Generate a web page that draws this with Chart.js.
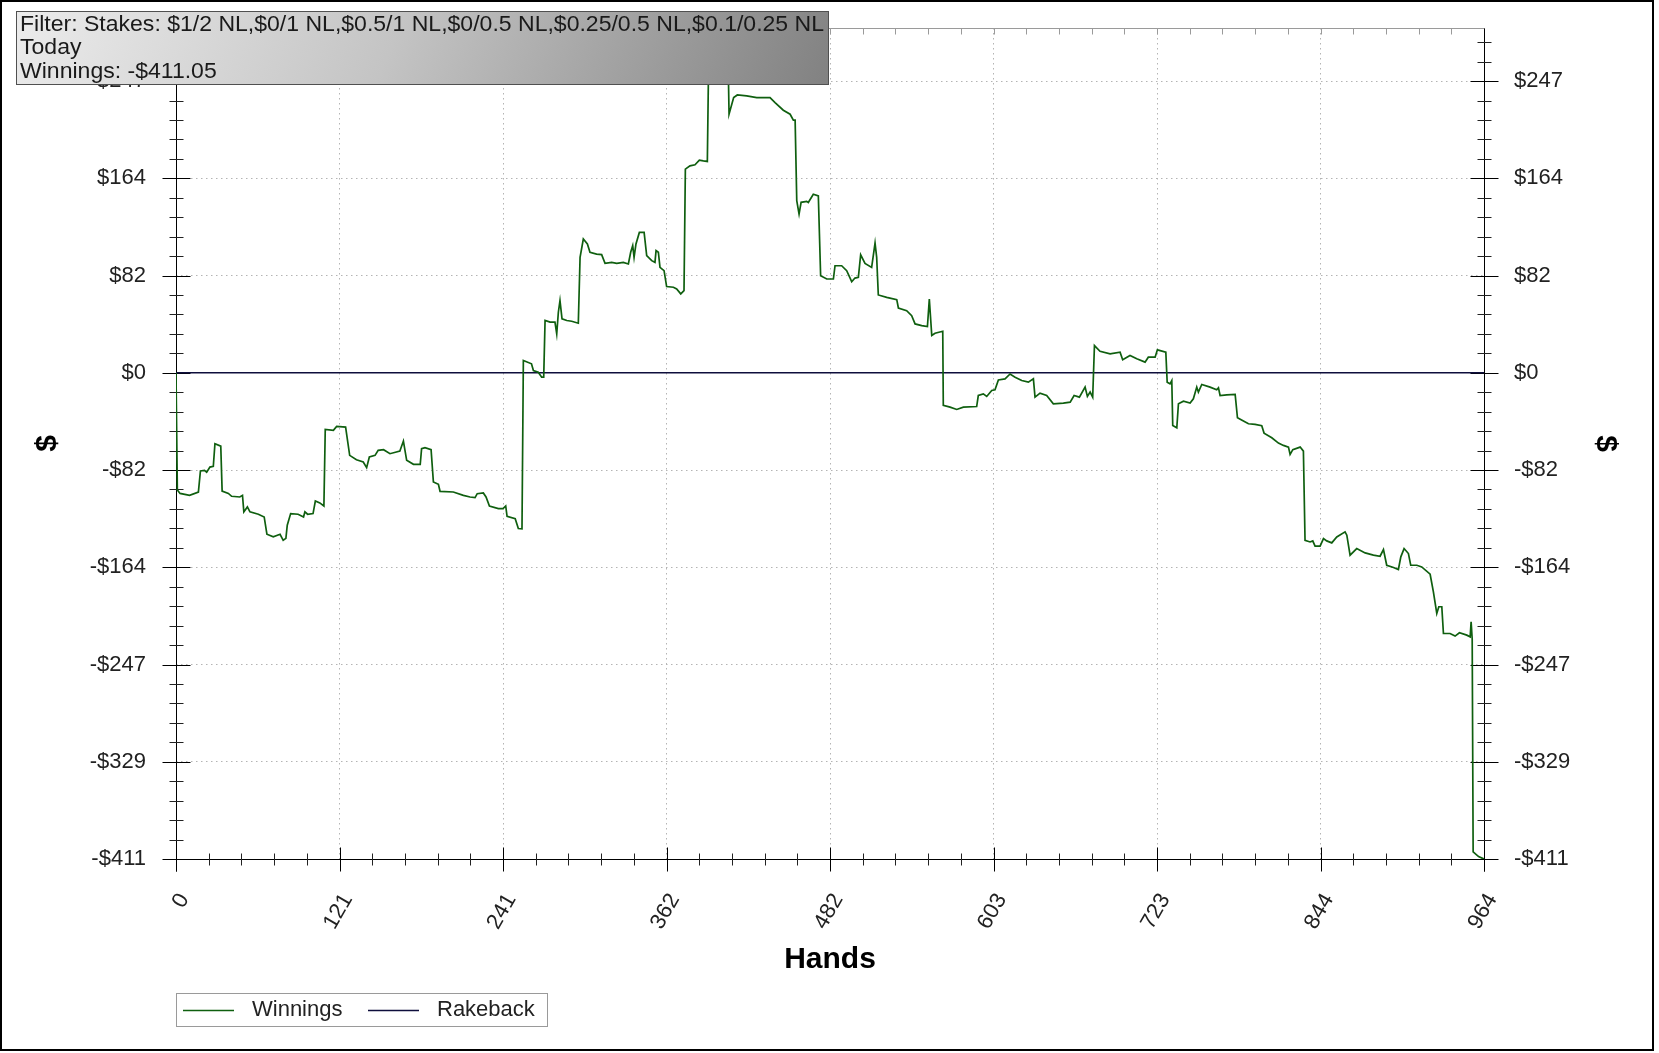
<!DOCTYPE html>
<html><head><meta charset="utf-8">
<script src="https://cdn.jsdelivr.net/npm/chart.js@4.4.1/dist/chart.umd.min.js"></script>
<style>html,body{margin:0;padding:0;background:#fff;overflow:hidden}canvas{display:block}</style>
</head><body>
<canvas id="c" width="1659" height="1053"></canvas>
<script>
// ---- data ----
const hands = [0,1,3,10,16.5,18,21,22.6,25,27.5,28.7,33,34,38.6,41,47,49,50,52.6,54.5,60.7,65,67,71.7,76.7,79,81,82,84.5,90,94,95,97,101,102.7,106,109,110,116,118.4,125,128,133,138,140.5,142.5,146.7,149,153,157.7,165,167.6,170,175,180,181,183.5,188,189.7,193.4,194.6,204.4,211.8,216.7,220.4,222,226.5,228.5,231,237.6,241,243,244,250,252.3,255,256,262,263.4,267,269.5,271,272,275.7,279.3,280.6,281.8,283,284.5,288,291.6,296.5,297.8,300.2,303.2,305.1,310,313.7,316.2,321.1,324.8,329.7,333.4,335.1,336.6,337.6,339,341.5,345,346.9,350.6,353,353.8,355.5,356.7,359.7,361.6,366.6,369,372,374.4,375.4,378.8,382.5,385.7,388.7,391.6,392.6,394,398,402,405,406.8,407.6,411,413.7,420.6,428,437.8,441.5,447.6,452.6,455,456.3,457.5,459.2,460.7,464.8,466,469.7,473.4,475.1,479.6,484.5,485.7,490.6,494.3,498,500.4,502.9,504.6,507.8,512.7,515.2,516.4,517.6,523.8,531.2,532.4,538.5,542.2,544.7,549.6,553.8,555.2,557,559.4,565.1,565.5,570.5,575.4,580.3,590.1,591.3,595,597.5,601.2,603.6,606.1,611,614.7,618.4,623.3,628.2,631.9,633.1,636.8,641.7,646.6,654,659,661.9,665.8,670,671.7,673.7,675.6,676.9,681,688.4,695.8,697.7,703.1,708.1,714.2,716.6,721.6,723.3,729.5,730.5,732.6,733.9,734.6,737.6,738.8,742.5,747.4,749.8,752.3,753.5,756,762.1,767,768.3,769.5,774.4,780.6,782.3,786.7,790.4,795.3,800.2,801.9,807.6,812.5,816.2,819.9,821.1,823.1,828.5,830.9,832.1,835.8,837.8,839.5,843.2,845.7,848.1,851.8,855.5,861.6,862.9,865.3,870.2,876.4,882.5,887.4,889.9,892.3,897.3,900.9,902.7,905.1,908.3,910,914.5,918.1,924.3,926.7,929.2,930.7,932.9,934.1,939,942.7,945.9,951.3,953.8,954.5,955.3,956,960,964];
const winnings = [0,-99,-102,-103.6,-100.8,-83,-82.5,-84,-79.7,-79,-60,-62,-100,-102,-104.4,-105,-103.6,-117.6,-113.4,-117.6,-119.6,-121.9,-136.5,-138.7,-136.5,-141.6,-140,-128.9,-119,-119.6,-121.9,-117.6,-119.6,-119,-108.4,-110,-112.6,-47.9,-48.7,-45.3,-45.9,-69.8,-73.5,-75.4,-80.2,-71.2,-69.8,-65.6,-65,-68.4,-66.1,-57.7,-74,-77.4,-77.4,-64.2,-63.3,-65,-92.3,-94.3,-100.2,-100.8,-103.6,-105,-105.5,-102.2,-101.6,-105,-112.6,-114.8,-114.8,-112.6,-121.3,-123.3,-131.7,-132,10.4,7.6,1.9,0.5,-3.7,-3.7,44.2,42.8,42.8,32.9,51.2,61,45.6,44.2,43.6,41.9,97.6,113.1,108.9,101.9,100.4,99.9,92.6,93.4,92.6,93.4,92,101.9,107.5,97.6,108.9,118.7,118.7,99,94.8,93.4,103.3,101.9,89.2,86.4,72.9,72.3,70.9,66.7,69.5,172.2,175,175.9,179.8,179.2,178.7,268,287,291,283,287,272,218.6,232.7,234.9,234.1,232.7,232.7,228.5,222,218.6,213.6,213.6,145.5,134.2,144.1,144.9,144,151,149.6,82.1,79.3,79.3,90.5,90.5,86.3,77,80.1,80.7,99.8,92.5,89.1,109.7,97.6,65.8,63.8,61.8,54.8,52.5,48.3,41.3,39.9,39.1,62.4,31.5,33.4,35.1,-27.6,-29,-31,-29,-28.5,-19.2,-17.8,-20,-15,-14.4,-6,-5.1,-1,-3.7,-6.5,-7.9,-5.1,-20.6,-17.2,-19.2,-26.2,-25.7,-24.8,-19.2,-20.6,-12.1,-20,-16.3,-20.6,23,18.2,16,17.4,11,14.6,11.8,9,13.2,13.2,19.4,17.4,-7.9,-9.3,-6.5,-44.5,-46.5,-26.2,-24,-25.6,-22,-12.1,-16.4,-9.9,-12.1,-14.4,-12.7,-19.2,-18.6,-18.3,-38,-40.8,-43.1,-43.6,-44.8,-51,-54.9,-59.4,-61.4,-62.8,-69,-65,-62.8,-66.2,-141.6,-143,-142.1,-146.6,-146.6,-140.2,-142.1,-143.8,-138.8,-134.5,-137.3,-154.2,-148.6,-152.3,-154.2,-155.1,-149.4,-162.7,-164.6,-166.3,-155.6,-148.6,-152.8,-162.7,-162.7,-164.1,-170.3,-185.2,-203.5,-197.8,-197.8,-220.4,-220.4,-222.6,-219.8,-221.8,-223.2,-210.5,-225,-405,-409,-411.05];
const rakebackHands = [0, 964];
const rakeback = [0, 0];
const xTickValues = [0, 120.5, 241, 361.5, 482, 602.5, 723, 843.5, 964];
const xTickLabels = ['0','121','241','362','482','603','723','844','964'];
const yTickValues = [-411.05, -328.84, -246.63, -164.42, -82.21, 0, 82.21, 164.42, 246.63];
const yTickLabels = ['-$411','-$329','-$247','-$164','-$82','$0','$82','$164','$247'];
const xMin = 0, xMax = 964, yMin = -411.05, yMax = 291.5;
const infoLines = ['Filter: Stakes: $1/2 NL,$0/1 NL,$0.5/1 NL,$0/0.5 NL,$0.25/0.5 NL,$0.1/0.25 NL', 'Today', 'Winnings: -$411.05'];
const seriesNames = ['Winnings', 'Rakeback'];
const seriesColors = ['#0f5f0f', '#0e0e3c'];

const FONT = "'Liberation Sans', Arial, sans-serif";
const W = 1659, H = 1053;

function seg(ctx, x1, y1, x2, y2) { ctx.beginPath(); ctx.moveTo(x1, y1); ctx.lineTo(x2, y2); ctx.stroke(); }

const decor = {
  id: 'decor',
  beforeDraw(chart) {
    const ctx = chart.ctx; ctx.save(); ctx.fillStyle = '#fff'; ctx.fillRect(0, 0, chart.width, chart.height); ctx.restore();
  },
  beforeDatasetsDraw(chart) {
    const {ctx, chartArea: a, scales: {x, y}} = chart;
    const L = Math.round(a.left) + 0.5, R = Math.round(a.right) + 0.5, T = Math.round(a.top) + 0.5, B = Math.round(a.bottom) + 0.5;
    ctx.save();
    ctx.lineWidth = 1;
    // top frame with small ticks
    ctx.strokeStyle = '#9a9a9a';
    seg(ctx, L, T, R, T);
    const xs = (xTickValues[1] - xTickValues[0]) / 5;
    for (let k = 1; xMin + k * xs < xMax - 0.01; k++) {
      const px = Math.round(x.getPixelForValue(xMin + k * xs)) + 0.5;
      seg(ctx, px, T, px, T + 6);
    }
    // axes
    ctx.strokeStyle = '#000';
    seg(ctx, L, T, L, B + 12);
    seg(ctx, R, T, R, B + 12);
    seg(ctx, L, B, R, B);
    // y ticks (both sides)
    const ys = (yTickValues[1] - yTickValues[0]) / 5;
    for (let k = 0; yMin + k * ys <= yMax + 0.01; k++) {
      const py = Math.round(y.getPixelForValue(yMin + k * ys)) + 0.5;
      const len = (k % 5 === 0) ? 14 : 7;
      ctx.strokeStyle = (k % 5 === 0) ? '#000' : '#222';
      seg(ctx, L - len, py, L + len, py);
      seg(ctx, R - len, py, R + len, py);
    }
    // x ticks
    for (let k = 0; xMin + k * xs <= xMax + 0.01; k++) {
      const px = Math.round(x.getPixelForValue(xMin + k * xs)) + 0.5;
      const len = (k % 5 === 0) ? 12 : 6;
      ctx.strokeStyle = (k % 5 === 0) ? '#000' : '#222';
      seg(ctx, px, B - len, px, B + len);
    }
    ctx.restore();
  },
  afterDraw(chart) {
    const ctx = chart.ctx;
    ctx.save();
    // info box
    const bx = 16, by = 11, bw = 812, bh = 73;
    const g = ctx.createLinearGradient(bx, by - 100, bx + bw, by + bh + 180);
    g.addColorStop(0, '#f0f0f0');
    g.addColorStop(0.45, '#c4c4c4');
    g.addColorStop(1, '#767676');
    ctx.fillStyle = g;
    ctx.fillRect(bx, by, bw, bh);
    ctx.strokeStyle = '#505050'; ctx.lineWidth = 1;
    ctx.strokeRect(bx + 0.5, by + 0.5, bw, bh);
    ctx.font = '22px ' + FONT;
    ctx.fillStyle = '#1a1a1a';
    ctx.textBaseline = 'alphabetic';
    ctx.textAlign = 'left';
    const natural = ctx.measureText(infoLines[0]).width;
    const sx = 804 / natural;
    infoLines.forEach((t, i) => {
      ctx.save();
      ctx.translate(bx + 4, by + 20 + i * 23.3);
      ctx.scale(sx, 1);
      ctx.fillText(t, 0, 0);
      ctx.restore();
    });
    // legend
    const lx = 176, ly = 993, lw = 371, lh = 33;
    ctx.strokeStyle = '#9a9a9a';
    ctx.strokeRect(lx + 0.5, ly + 0.5, lw, lh);
    ctx.font = '22px ' + FONT;
    ctx.textBaseline = 'middle';
    ctx.fillStyle = '#222';
    const cy = ly + 16.5;
    const ds = chart.data.datasets;
    const itemX = [lx + 7, lx + 192];
    ds.forEach((d, i) => {
      ctx.strokeStyle = d.borderColor; ctx.lineWidth = 1.5;
      seg(ctx, itemX[i], Math.round(cy) + 0.5, itemX[i] + 51, Math.round(cy) + 0.5);
      ctx.fillText(d.label, itemX[i] + 69, cy);
    });
    // outer frame
    ctx.strokeStyle = '#000'; ctx.lineWidth = 2;
    ctx.strokeRect(1, 1, 1652, 1049);
    ctx.restore();
  }
};

const noPadV = s => { s.paddingTop = 0; s.paddingBottom = 0; };

new Chart(document.getElementById('c'), {
  type: 'line',
  data: {
    datasets: [
      { label: seriesNames[0], data: hands.map((h, i) => ({x: h, y: winnings[i]})), borderColor: seriesColors[0], borderWidth: 1.7, pointRadius: 0, tension: 0, fill: false, yAxisID: 'y' },
      { label: seriesNames[1], data: rakebackHands.map((h, i) => ({x: h, y: rakeback[i]})), borderColor: seriesColors[1], borderWidth: 1.6, pointRadius: 0, tension: 0, fill: false, yAxisID: 'y' }
    ]
  },
  options: {
    responsive: false, animation: false, devicePixelRatio: 1,
    layout: { padding: { top: 28, left: 0, right: 0, bottom: 0 } },
    plugins: { legend: { display: false }, tooltip: { enabled: false } },
    scales: {
      x: {
        type: 'linear', position: 'bottom', min: xMin, max: xMax,
        afterBuildTicks: s => { s.ticks = xTickValues.map(v => ({value: v})); },
        afterFit: s => { s.height = H - 859; s.paddingLeft = 0; s.paddingRight = 0; },
        ticks: { autoSkip: false, minRotation: 60, maxRotation: 60, padding: 30, labelOffset: 8, color: '#222', font: { family: FONT, size: 22 }, callback: (v, i) => xTickLabels[i] },
        grid: { color: '#b4b4b4', lineWidth: 1, drawTicks: false },
        border: { display: false, dash: [1.5, 3.5] },
        title: { display: true, text: 'Hands', color: '#000', font: { family: FONT, size: 30, weight: 'bold' }, padding: { top: 0, bottom: 75 } }
      },
      y: {
        type: 'linear', position: 'left', min: yMin, max: yMax,
        afterBuildTicks: s => { s.ticks = yTickValues.map(v => ({value: v})); },
        afterFit: s => { s.width = 176; noPadV(s); },
        ticks: { autoSkip: false, padding: 30, color: '#222', font: { family: FONT, size: 22 }, callback: (v, i) => yTickLabels[i] },
        grid: { color: '#b4b4b4', lineWidth: 1, drawTicks: false },
        border: { display: false, dash: [1.5, 3.5] },
        title: { display: true, text: '$', color: '#000', font: { family: FONT, size: 30, weight: 'bold' }, padding: { top: 29.6, bottom: 0 } }
      },
      y2: {
        type: 'linear', position: 'right', min: yMin, max: yMax,
        afterBuildTicks: s => { s.ticks = yTickValues.map(v => ({value: v})); },
        afterFit: s => { s.width = W - 1484; noPadV(s); },
        ticks: { autoSkip: false, padding: 30, color: '#222', font: { family: FONT, size: 22 }, callback: (v, i) => yTickLabels[i] },
        grid: { display: false, drawTicks: false },
        border: { display: false },
        title: { display: true, text: '$', color: '#000', font: { family: FONT, size: 30, weight: 'bold' }, padding: { top: 36, bottom: 0 } }
      }
    }
  },
  plugins: [decor]
});
</script>
</body></html>
